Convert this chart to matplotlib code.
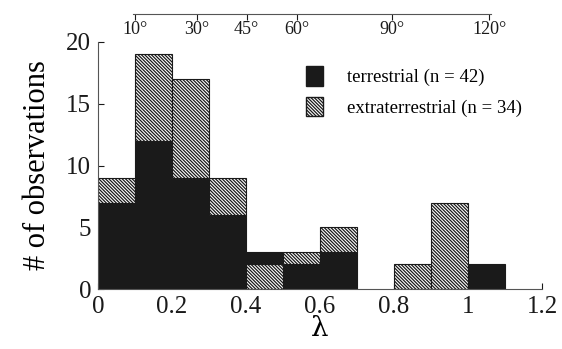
import matplotlib
matplotlib.use("Agg")
import matplotlib.pyplot as plt
import numpy as np
from matplotlib.patches import Patch

plt.rcParams['font.family'] = ['Liberation Serif', 'DejaVu Serif']
plt.rcParams['hatch.linewidth'] = 0.9
plt.rcParams['hatch.color'] = '#1a1a1a'

# data
bin_left = [0.0, 0.1, 0.2, 0.3, 0.4, 0.5, 0.6, 0.7, 0.8, 0.9, 1.0]
terrestrial = [7, 12, 9, 6, 1, 2, 3, 0, 0, 0, 2]
extraterrestrial = [2, 7, 8, 3, 2, 1, 2, 0, 2, 7, 0]
terrestrial_on_top = [False, False, False, False, True, False, False, False, False, False, False]
bin_width = 0.1

x_ticks = [0, 0.2, 0.4, 0.6, 0.8, 1.0, 1.2]
x_ticklabels = ['0', '0.2', '0.4', '0.6', '0.8', '1', '1.2']
y_ticks = [0, 5, 10, 15, 20]
top_tick_pos = [0.10, 0.268, 0.402, 0.537, 0.795, 1.057]
top_tick_labels = ['10°', '30°', '45°', '60°', '90°', '120°']

W, H = 562, 349
fig = plt.figure(figsize=(W / 100, H / 100), dpi=100)
left_px, right_px, top_px, bot_px = 98, 542, 42, 289
ax = fig.add_axes([left_px / W, 1 - bot_px / H, (right_px - left_px) / W, (bot_px - top_px) / H])

black = '#1a1a1a'
hatch = '\\' * 10
for i, x in enumerate(bin_left):
    t, e = terrestrial[i], extraterrestrial[i]
    if terrestrial_on_top[i]:
        if e:
            ax.bar(x, e, width=bin_width, align='edge', bottom=0, facecolor='white',
                   edgecolor=black, hatch=hatch, linewidth=0.8)
        if t:
            ax.bar(x, t, width=bin_width, align='edge', bottom=e, facecolor=black,
                   edgecolor=black, linewidth=0.8)
    else:
        if t:
            ax.bar(x, t, width=bin_width, align='edge', bottom=0, facecolor=black,
                   edgecolor=black, linewidth=0.8)
        if e:
            ax.bar(x, e, width=bin_width, align='edge', bottom=t, facecolor='white',
                   edgecolor=black, hatch=hatch, linewidth=0.8)

ax.set_xlim(0, 1.2)
ax.set_ylim(0, 20)
ax.set_xticks(x_ticks)
ax.set_xticklabels(x_ticklabels)
ax.set_yticks(y_ticks)
ax.tick_params(direction='in', length=4, width=0.8, labelsize=18, pad=5, colors='#1a1a1a')
for s in ['top', 'right']:
    ax.spines[s].set_visible(False)
for s in ['left', 'bottom']:
    ax.spines[s].set_linewidth(0.8)
    ax.spines[s].set_color('#555555')
ax.set_ylabel('# of observations', fontsize=22, labelpad=10)
ax.set_xlabel('λ', fontsize=20, labelpad=-2, family=['DejaVu Serif'])

handles = [Patch(facecolor=black, edgecolor=black, label='terrestrial (n = 42)'),
           Patch(facecolor='white', edgecolor=black, hatch=hatch, label='extraterrestrial (n = 34)')]
ax.legend(handles=handles, loc='upper left', bbox_to_anchor=(0.43, 0.97), frameon=False,
          fontsize=13.5, handlelength=0.9, handleheight=1.2, handletextpad=1.3, labelspacing=0.55)

# top angle axis
ax2 = fig.add_axes([left_px / W, 1 - 14 / H, (right_px - left_px) / W, 0.0001])
ax2.set_xlim(0, 1.2)
ax2.set_yticks([])
for s in ['top', 'right', 'left']:
    ax2.spines[s].set_visible(False)
ax2.spines['bottom'].set_bounds(top_tick_pos[0] - 0.005, top_tick_pos[-1] + 0.005)
ax2.spines['bottom'].set_linewidth(0.8)
ax2.spines['bottom'].set_color('#555555')
ax2.set_xticks(top_tick_pos)
ax2.set_xticklabels(top_tick_labels)
ax2.tick_params(direction='out', length=4, width=0.8, labelsize=13, pad=1, colors='#1a1a1a')
ax2.patch.set_visible(False)

fig.savefig('out.png', dpi=100)
